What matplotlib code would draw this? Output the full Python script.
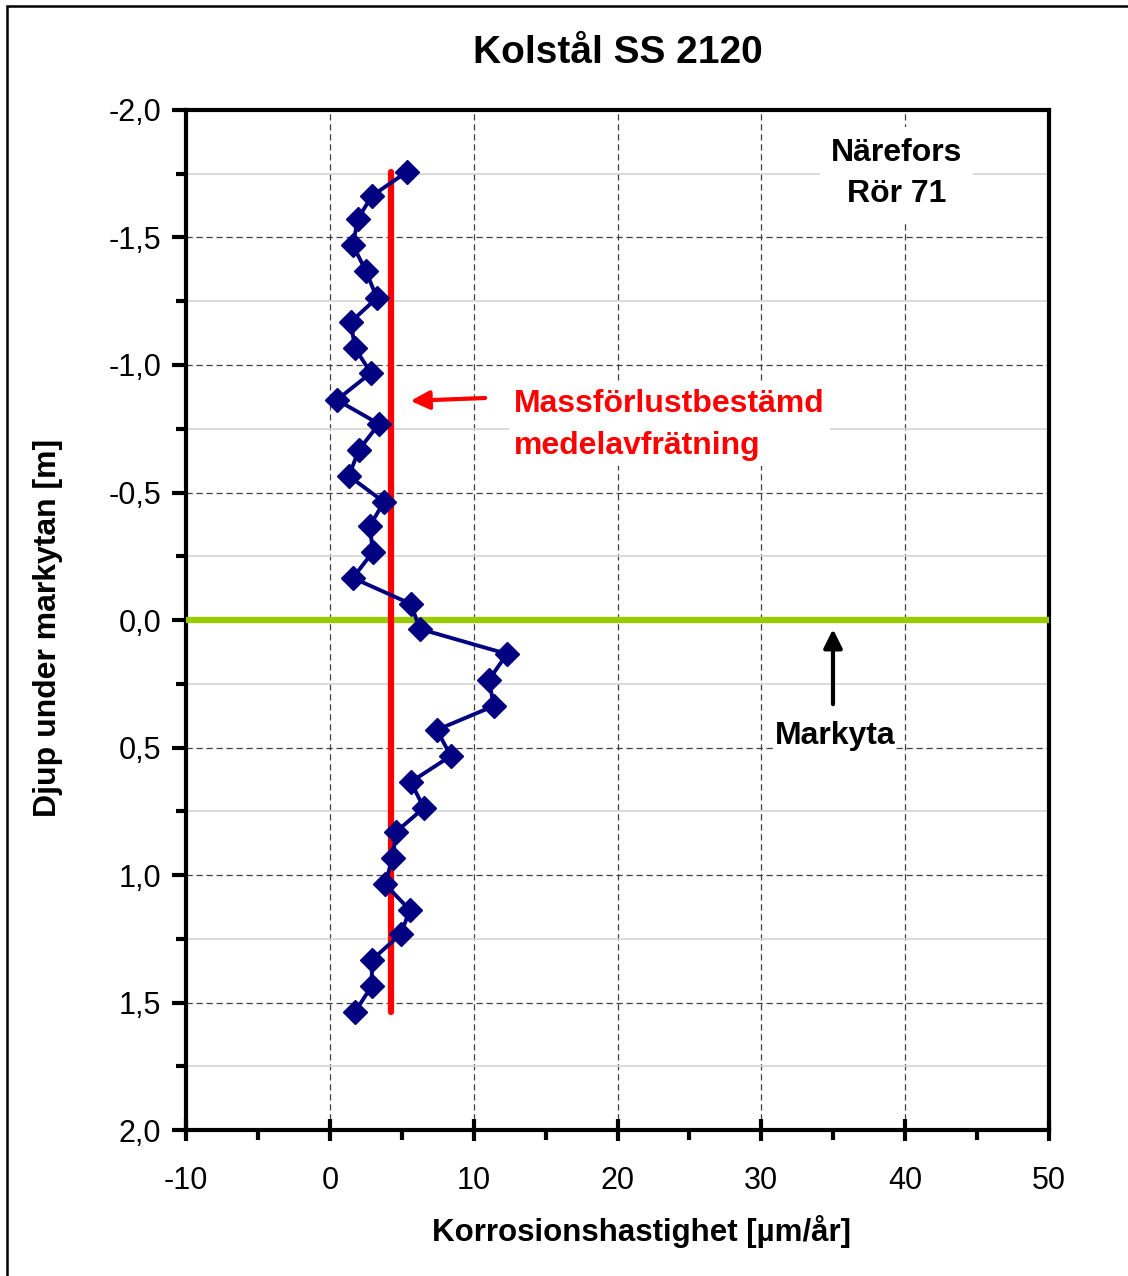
import matplotlib
matplotlib.use('Agg')
from matplotlib import pyplot as plt
from matplotlib.ticker import MultipleLocator, FuncFormatter
from matplotlib.patches import Rectangle

plt.rcParams['font.family'] = ['Liberation Sans', 'DejaVu Sans']
plt.rcParams['axes.unicode_minus'] = False

# korrosionshastighet [µm/år] and djup [m]
rate = [5.35, 2.92, 1.95, 1.60, 2.50, 3.27, 1.46, 1.74, 2.85, 0.49,
        3.41, 2.02, 1.32, 3.76, 2.78, 2.99, 1.60, 5.63, 6.26, 12.31,
        11.06, 11.40, 7.44, 8.41, 5.63, 6.54, 4.59, 4.38, 3.82, 5.56,
        4.94, 2.92, 2.92, 1.74]
depth = [-1.757, -1.663, -1.573, -1.47, -1.37, -1.263, -1.169, -1.067, -0.969, -0.863,
         -0.769, -0.667, -0.565, -0.463, -0.369, -0.267, -0.165, -0.063, 0.035, 0.133,
         0.235, 0.337, 0.431, 0.533, 0.635, 0.737, 0.831, 0.933, 1.035, 1.137,
         1.231, 1.333, 1.435, 1.537]

mean_rate = 4.24
mean_depth = [-1.757, 1.537]
ground = 0.0

fig = plt.figure(figsize=(11.28, 12.76), dpi=100)
ax = fig.add_axes([0.1649, 0.1144, 0.7651, 0.7994])

# frame round the whole figure (right and bottom edges fall outside)
fig.patches.append(Rectangle((7/1128, -0.05), 1.2, 1.05 - 6/1276, transform=fig.transFigure,
                             fill=False, edgecolor='black', linewidth=1.8, zorder=0))

ax.set_xlim(-10, 50)
ax.set_ylim(2.0, -2.0)

ax.xaxis.set_major_locator(MultipleLocator(10))
ax.xaxis.set_minor_locator(MultipleLocator(5))
ax.yaxis.set_major_locator(MultipleLocator(0.5))
ax.yaxis.set_minor_locator(MultipleLocator(0.25))
ax.yaxis.set_major_formatter(FuncFormatter(lambda v, p: f'{v:.1f}'.replace('.', ',')))

ax.grid(which='major', axis='both', linestyle=(0, (5, 3)), color='#404040', linewidth=0.9)
ax.grid(which='minor', axis='y', linestyle='-', color='#d4d4d4', linewidth=1.2)
ax.set_axisbelow(True)

ax.tick_params(axis='x', which='major', direction='inout', length=16, width=3, labelsize=22, pad=18)
ax.tick_params(axis='x', which='minor', direction='out', length=7, width=3)
ax.tick_params(axis='y', which='major', direction='out', length=10, width=3, labelsize=22, pad=8)
ax.tick_params(axis='y', which='minor', direction='out', length=7, width=3)
for s in ax.spines.values():
    s.set_linewidth(3)

ax.axhline(ground, color='#99cc00', linewidth=4.5, zorder=3)
ax.plot([mean_rate, mean_rate], mean_depth, color='#ff0000', linewidth=4.5,
        solid_capstyle='round', zorder=4)
ax.plot(rate, depth, color='#000080', linewidth=2.8, marker='D', markersize=12, zorder=5)

ax.set_title('Kolstål SS 2120', fontsize=28, fontweight='bold', pad=34)
ax.set_xlabel('Korrosionshastighet [µm/år]', fontsize=22.5, fontweight='bold')
ax.xaxis.set_label_coords((641 - 186) / 863, -0.083)
ax.set_ylabel('Djup under markytan [m]', fontsize=23, fontweight='bold')
ax.yaxis.set_label_coords(-0.142, 0.492)

ax.text(39.4, -1.75, 'Närefors\nRör 71', fontsize=23, fontweight='bold', ha='center', va='center',
        linespacing=1.5, bbox=dict(facecolor='white', edgecolor='none', pad=8), zorder=6)

ax.annotate('', xy=(5.42, -0.859), xytext=(10.99, -0.871),
            arrowprops=dict(arrowstyle='-|>', color='#ff0000', lw=3, mutation_scale=28), zorder=6)
ax.text(12.8, -0.764, 'Massförlustbestämd\nmedelavfrätning', fontsize=23, fontweight='bold',
        color='#ff0000', ha='left', va='center', linespacing=1.5,
        bbox=dict(facecolor='white', edgecolor='none', pad=4), zorder=6)

ax.annotate('', xy=(34.98, 0.025), xytext=(34.98, 0.341),
            arrowprops=dict(arrowstyle='-|>', color='black', lw=3, mutation_scale=28), zorder=6)
ax.text(35.1, 0.455, 'Markyta', fontsize=23, fontweight='bold', ha='center', va='center',
        bbox=dict(facecolor='white', edgecolor='none', pad=1), zorder=6)

plt.savefig('out.png', dpi=100)
